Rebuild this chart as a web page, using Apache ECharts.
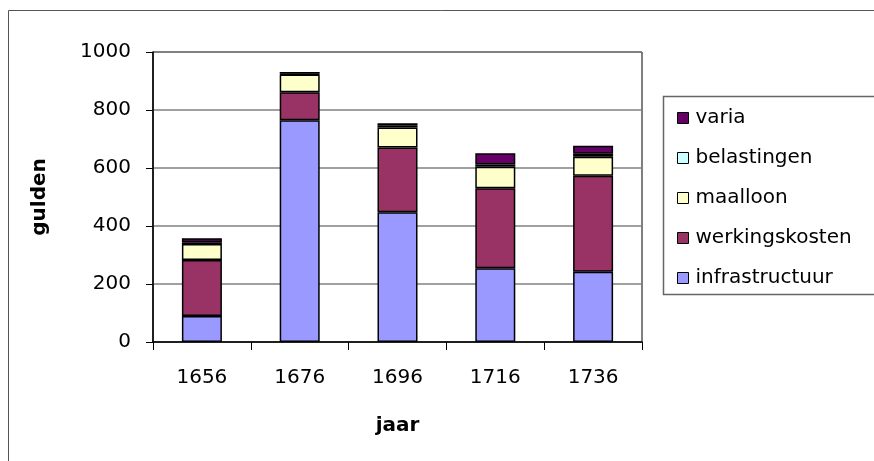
<!DOCTYPE html>
<html><head><meta charset="utf-8">
<script src="https://cdn.jsdelivr.net/npm/echarts@6/dist/echarts.min.js"></script>
<style>html,body{margin:0;padding:0;background:#fff}#c{width:874px;height:461px}</style>
</head><body><div id="c"></div>
<script>
const categories = ['1656', '1676', '1696', '1716', '1736'];
const infrastructuur = [90, 765, 447, 254, 242];
const werkingskosten = [193, 96, 224, 276, 331];
const maalloon = [55, 61, 69, 74, 66];
const belastingen = [6, 3, 6, 8, 10];
const varia = [14, 6, 8, 39, 28];
const yTicks = [0, 200, 400, 600, 800, 1000];

const FONT = '"DejaVu Sans", sans-serif';
const names = ['infrastructuur', 'werkingskosten', 'maalloon', 'belastingen', 'varia'];
const colors = ['#9999FF', '#993366', '#FFFFCC', '#CCFFFF', '#660066'];
const values = [infrastructuur, werkingskosten, maalloon, belastingen, varia];

const chart = echarts.init(document.getElementById('c'));
chart.setOption({
  animation: false,
  backgroundColor: '#fff',
  grid: { left: 153, right: 232, top: 52, bottom: 119, show: true, borderColor: '#000', borderWidth: 1, backgroundColor: 'transparent' },
  graphic: [
    { type: 'rect', shape: { x: 8.5, y: 10.5, width: 900, height: 500 }, style: { fill: 'none', stroke: '#555', lineWidth: 1 }, z: -1 },
    { type: 'rect', shape: { x: 663.5, y: 96.5, width: 220, height: 198 }, style: { fill: '#fff', stroke: '#666', lineWidth: 1.5 }, z: 0 }
  ],
  legend: {
    orient: 'vertical', left: 672, top: 103,
    data: names.slice().reverse(),
    itemWidth: 11, itemHeight: 11, itemGap: 20,
    icon: 'rect',
    itemStyle: { borderColor: '#000', borderWidth: 1 },
    textStyle: { fontFamily: FONT, fontSize: 20, color: '#000', padding: [0, 0, 0, 2] },
    z: 5
  },
  xAxis: {
    type: 'category', data: categories,
    name: 'jaar', nameLocation: 'middle', nameGap: 74,
    nameTextStyle: { fontFamily: FONT, fontSize: 20, fontWeight: 'bold', color: '#000' },
    axisLine: { lineStyle: { color: '#000', width: 1.5 } },
    axisTick: { show: true, length: 8, lineStyle: { color: '#000' } },
    axisLabel: { fontFamily: FONT, fontSize: 20, color: '#000', margin: 26 }
  },
  yAxis: {
    type: 'value', min: 0, max: 1000, interval: 200,
    name: 'gulden', nameLocation: 'middle', nameGap: 103,
    nameTextStyle: { fontFamily: FONT, fontSize: 20, fontWeight: 'bold', color: '#000' },
    axisLine: { show: true, lineStyle: { color: '#000', width: 1.5 } },
    axisTick: { show: true, length: 7, lineStyle: { color: '#000' } },
    axisLabel: { fontFamily: FONT, fontSize: 20, color: '#000', margin: 22,
      formatter: v => yTicks.includes(v) ? String(v) : '' },
    splitLine: { lineStyle: { color: '#808080', width: 1.5 } }
  },
  series: names.map((n, i) => ({
    name: n, type: 'bar', stack: 'total', barWidth: 40,
    data: values[i],
    itemStyle: { color: colors[i], borderColor: '#000', borderWidth: 1.5 }
  }))
});
</script></body></html>
